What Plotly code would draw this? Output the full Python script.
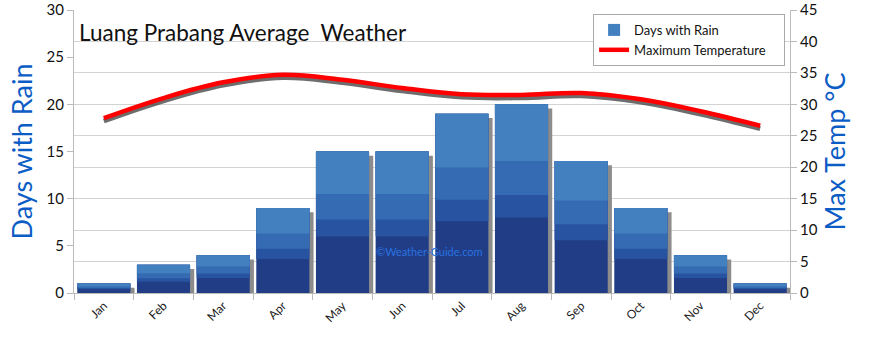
import plotly.graph_objects as go

months = ["Jan", "Feb", "Mar", "Apr", "May", "Jun", "Jul", "Aug", "Sep", "Oct", "Nov", "Dec"]
rain_days = [1, 3, 4, 9, 15, 15, 19, 20, 14, 9, 4, 1]
max_temp = [27.8, 31.0, 33.5, 34.7, 33.9, 32.6, 31.6, 31.5, 31.8, 30.8, 28.9, 26.6]

FONT = "Lato"
BLUE_TXT = "#0b5cc5"
W = 0.89

fig = go.Figure()

# bar shadows
fig.add_trace(go.Bar(x=months, y=rain_days, base=[-0.45] * 12, width=W, offset=-W / 2 + 0.07,
                     marker=dict(color="#8c8c8c", line=dict(width=0)), showlegend=False,
                     hoverinfo="skip", yaxis="y"))
# bar body layers (approximating gradient)
fig.add_trace(go.Bar(x=months, y=rain_days, width=W, marker=dict(color="#203d86", line=dict(width=0)),
                     showlegend=False, yaxis="y"))
fig.add_trace(go.Bar(x=months, y=[v * 0.6 for v in rain_days], base=[v * 0.4 for v in rain_days], width=W,
                     marker=dict(color="#2753a0", line=dict(width=0)), showlegend=False, hoverinfo="skip", yaxis="y"))
fig.add_trace(go.Bar(x=months, y=[v * 0.48 for v in rain_days], base=[v * 0.52 for v in rain_days], width=W,
                     marker=dict(color="#356bb2", line=dict(width=0)), showlegend=False, hoverinfo="skip", yaxis="y"))
fig.add_trace(go.Bar(x=months, y=[v * 0.3 for v in rain_days], base=[v * 0.7 for v in rain_days], width=W,
                     marker=dict(color="#4380c0", line=dict(width=0)), name="Days with Rain\u00a0\u00a0\u00a0\u00a0",
                     showlegend=True, legendrank=1, yaxis="y"))

# temperature shadow + line
fig.add_trace(go.Scatter(x=months, y=[t - 0.45 for t in max_temp], mode="lines",
                         line=dict(color="rgba(60,60,60,0.75)", width=5, shape="spline", smoothing=1.1),
                         showlegend=False, hoverinfo="skip", yaxis="y2"))
fig.add_trace(go.Scatter(x=months, y=max_temp, mode="lines", name="Maximum Temperature\u00a0\u00a0\u00a0\u00a0",
                         line=dict(color="#ff0000", width=4.5, shape="spline", smoothing=1.1),
                         legendrank=2, yaxis="y2"))

fig.update_layout(
    width=870, height=337,
    margin=dict(l=74, r=80, t=10, b=44, autoexpand=False),
    paper_bgcolor="white", plot_bgcolor="white",
    barmode="overlay", bargap=0.11,
    font=dict(family=FONT, size=13, color="#111"),
    xaxis=dict(type="category", tickangle=-45, ticks="outside", ticklen=6, tickcolor="#bbbbbb",
               tickson="boundaries", showline=True, linecolor="#bbbbbb", showgrid=False,
               tickfont=dict(size=12, color="#222"), range=[-0.5, 11.5], automargin=False),
    yaxis=dict(range=[0, 30], dtick=5, showgrid=False, ticks="outside", ticklen=6, tickcolor="#bbbbbb",
               showline=True, linecolor="#bbbbbb", zeroline=False, automargin=False,
               tickfont=dict(size=15, color="#111"),
               title=dict(text="Days with Rain", font=dict(size=27, color=BLUE_TXT), standoff=6)),
    yaxis2=dict(range=[0, 45], dtick=5, overlaying="y", side="right", showgrid=True, gridcolor="#d3d3d3",
                ticks="outside", ticklen=6, tickcolor="#bbbbbb", showline=True, linecolor="#bbbbbb",
                zeroline=False, automargin=False, tickfont=dict(size=15, color="#111"),
                title=dict(text="Max Temp °C", font=dict(size=27, color=BLUE_TXT), standoff=8)),
    legend=dict(x=0.725, y=0.986, xanchor="left", yanchor="top", bgcolor="white",
                bordercolor="#aaaaaa", borderwidth=1, font=dict(size=13, color="#111"),
                traceorder="normal", itemwidth=30, tracegroupgap=0),
    annotations=[
        dict(text="Luang Prabang Average  Weather", xref="paper", yref="paper", x=0.004, y=0.922,
             xanchor="left", yanchor="middle", showarrow=False, font=dict(size=22.5, color="#111")),
        dict(text="©Weather-Guide.com", xref="paper", yref="paper", x=0.497, y=0.148,
             xanchor="center", yanchor="middle", showarrow=False, font=dict(size=11, color="#2a72e0")),
    ],
)

fig.write_html("out.html")
